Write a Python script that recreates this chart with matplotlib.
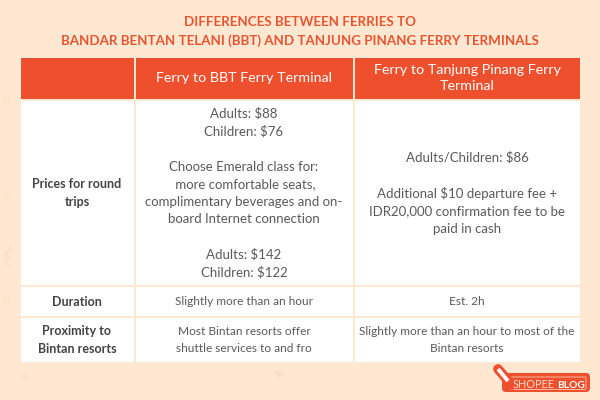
import matplotlib
matplotlib.use('Agg')
import matplotlib.pyplot as plt
from matplotlib.patches import Rectangle, FancyBboxPatch, Polygon, Ellipse

title_lines = ["DIFFERENCES BETWEEN FERRIES TO",
               "BANDAR BENTAN TELANI (BBT) AND TANJUNG PINANG FERRY TERMINALS"]
headers = ["", "Ferry to BBT Ferry Terminal", "Ferry to Tanjung Pinang Ferry\nTerminal"]
row_names = ["Prices for round\ntrips", "Duration", "Proximity to\nBintan resorts"]
bbt_col = ["Adults: $88\nChildren: $76\n\nChoose Emerald class for:\n more comfortable seats,\ncomplimentary beverages and on-\nboard Internet connection\n\nAdults: $142\nChildren: $122",
           "Slightly more than an hour",
           "Most Bintan resorts offer\nshuttle services to and fro"]
tp_col = ["Adults/Children: $86\n\nAdditional $10 departure fee +\nIDR20,000 confirmation fee to be\npaid in cash",
          "Est. 2h",
          "Slightly more than an hour to most of the\nBintan resorts"]

BG = '#fee8d2'
RED = '#ee4f2d'
TITLE = '#e8542f'
TXT = '#5a5a5a'
FAINT = '#f6e1cf'

plt.rcParams['font.family'] = ['Lato', 'DejaVu Sans']

fig = plt.figure(figsize=(6, 4), dpi=100, facecolor=BG)
ax = fig.add_axes([0, 0, 1, 1])
ax.set_xlim(0, 600)
ax.set_ylim(400, 0)
ax.axis('off')

# faint background shapes
ax.add_patch(Polygon([(20, 379), (29, 379), (24.5, 372)], fc=FAINT, ec='none'))
ax.add_patch(Polygon([(273, 371), (284, 371), (278.5, 379)], fc=FAINT, ec='none'))
ax.plot([11, 4, 10, 5, 11], [247, 256, 256, 264, 266], color=FAINT, lw=1.5)
for y in [100, 197, 300]:
    ax.add_patch(Ellipse((7, y), 10, 9, fc='#fee5ca', ec='none'))

# title
for y, line in zip([22, 41], title_lines):
    ax.text(300, y, line, color=TITLE, fontsize=9.6, fontweight='bold', ha='center', va='center')

col_x = [(21, 134), (135.5, 353), (355, 580)]
row_y = [(101, 285), (287, 316), (318, 362)]
col_mid = [77, 244, 467]
row_size = [9.5, 8.6, 8.6]
row_space = [1.54, 1.54, 1.6]

# header row
for (x0, x1), h, xm in zip(col_x, headers, col_mid):
    ax.add_patch(Rectangle((x0, 57.5), x1 - x0, 41.5, fc=RED, ec='none'))
    ax.text(xm, 78, h, color='white', fontsize=10.3, ha='center', va='center', linespacing=1.48)

# body
for i, (y0, y1) in enumerate(row_y):
    for (x0, x1) in col_x:
        ax.add_patch(Rectangle((x0, y0), x1 - x0, y1 - y0, fc='white', ec='none'))
    ym = (y0 + y1) / 2
    ax.text(col_mid[0], ym, row_names[i], color='#444444', fontsize=9, fontweight='bold', ha='center', va='center', linespacing=1.52)
    ax.text(col_mid[1], ym, bbt_col[i], color=TXT, fontsize=row_size[i], ha='center', va='center', linespacing=row_space[i])
    ax.text(col_mid[2], ym, tp_col[i], color=TXT, fontsize=row_size[i], ha='center', va='center', linespacing=row_space[i])

# logo
ax.add_patch(FancyBboxPatch((502, 373), 88, 19, boxstyle='round,pad=0,rounding_size=4', fc=RED, ec='none'))
ax.plot([498, 512], [369, 385], color=RED, lw=7, solid_capstyle='round')
ax.add_patch(FancyBboxPatch((510, 377), 76, 12.5, boxstyle='round,pad=0,rounding_size=1', fc='none', ec='#f9b9a3', lw=0.7))
ax.plot([498, 508], [369, 381], color='white', lw=2.8, solid_capstyle='butt')
ax.add_patch(Polygon([(506, 382), (510, 379), (512, 385)], fc='white', ec='none'))
ax.text(513, 387.5, "SHOPEE", color='#ffd9cc', fontsize=7.8, ha='left', va='baseline')
ax.text(557, 387.5, "BLOG", color='white', fontsize=7.4, fontweight='bold', ha='left', va='baseline')

fig.savefig('out.png', dpi=100, facecolor=BG)
